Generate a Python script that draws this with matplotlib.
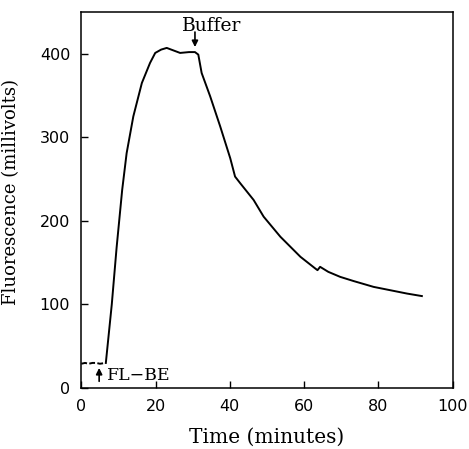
import matplotlib.pyplot as plt

# baseline before FL-BE addition
base_t = [0, 1, 2, 3, 4, 5, 6.6]
base_f = [29, 30, 29, 30, 30, 29, 30]

# response after addition
time = [6.6, 8.2, 9.5, 11.0, 12.2, 14.0, 16.3, 18.5, 19.9, 21.5, 23.0, 24.8, 26.6,
        29.0, 30.6, 31.5, 32.4, 34.7, 37.4, 40.1, 41.4, 42.8, 46.4, 49.1, 53.6,
        56.3, 59.0, 61.0, 63.0, 63.6, 64.3, 66.5, 69.7, 73.3, 78.7, 83.2, 87.7, 91.7]
fluor = [30, 100, 168, 237, 281, 325, 365, 389, 401, 405, 407, 404, 401,
         402, 402, 399, 377, 349, 313, 275, 253, 245, 225, 205, 181,
         169, 157, 150, 143, 141, 145, 139, 133, 128, 121, 117, 113, 110]

xticks = [0, 20, 40, 60, 80, 100]
yticks = [0, 100, 200, 300, 400]

fig = plt.figure(figsize=(4.69, 4.49), dpi=100)
ax = fig.add_axes([0.1734, 0.1359, 0.7918, 0.8374])

ax.plot(base_t, base_f, color="black", lw=1.4, ls=(0, (3, 1.2)))
ax.plot(time, fluor, color="black", lw=1.4)

ax.set_xlim(0, 100)
ax.set_ylim(0, 450)
ax.set_xticks(xticks)
ax.set_yticks(yticks)
ax.tick_params(direction="in", length=5, width=1, labelsize=11.5, pad=8)
for s in ax.spines.values():
    s.set_linewidth(1.1)

ax.set_xlabel("Time (minutes)", family="DejaVu Serif", fontsize=14.5)
ax.xaxis.set_label_coords(0.5, -0.105)
ax.set_ylabel("Fluorescence (millivolts)", family="DejaVu Serif", fontsize=13)
ax.yaxis.set_label_coords(-0.165, 0.522)

arrow = dict(arrowstyle="-|>", color="black", lw=1.2, mutation_scale=9, shrinkA=0, shrinkB=0)
ax.annotate("", xy=(30.6, 408), xytext=(30.6, 426), arrowprops=arrow)
ax.text(35.1, 427, "Buffer", family="DejaVu Serif", fontsize=13.5, ha="center", va="baseline")

ax.annotate("", xy=(4.8, 24), xytext=(4.8, 8), arrowprops=arrow)
ax.text(6.8, 9.6, "FL\u2212BE", family="DejaVu Serif", fontsize=12.5, ha="left", va="baseline")

fig.savefig("out.png", dpi=100)
